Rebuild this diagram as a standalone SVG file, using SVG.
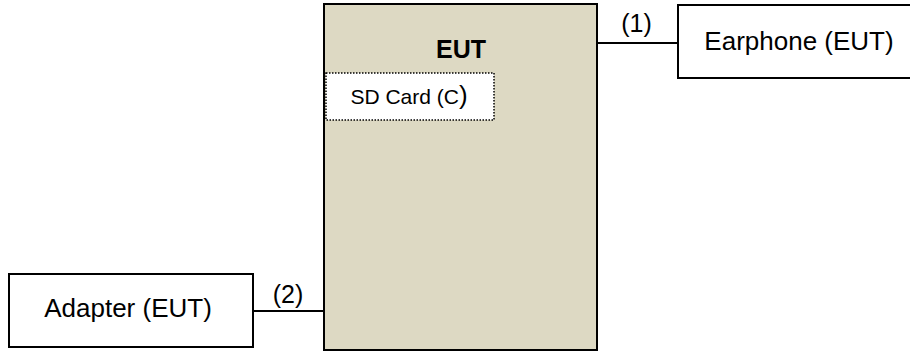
<svg xmlns="http://www.w3.org/2000/svg" width="910" height="351" viewBox="0 0 910 351">
<style>
.box{fill:#fff;stroke:#000;stroke-width:2}
.lbl{font-family:"Liberation Sans",Arial,sans-serif;fill:#000;text-anchor:middle}
.s25{font-size:25px}
.s26{font-size:26px}
.s21{font-size:21px}
.conn{stroke:#000;stroke-width:2;fill:none}
</style>
<rect width="910" height="351" fill="#fff"/>
<g id="eut">
<rect x="324" y="4" width="273" height="346" fill="#DDD9C3" stroke="#000" stroke-width="2"/>
<text class="lbl s25" x="461" y="58" font-weight="bold">EUT</text>
</g>
<g id="sdcard">
<rect x="326" y="73" width="168" height="47" fill="#fff" stroke="#000" stroke-width="1.5" stroke-dasharray="1.5,1.5"/>
<text class="lbl s21" x="409" y="104">SD Card (C<tspan style="font-size:26px">)</tspan></text>
</g>
<g id="earphone">
<rect class="box" x="678" y="5" width="240" height="73"/>
<text class="lbl s26" x="799" y="50">Earphone (EUT)</text>
</g>
<g id="adapter">
<rect class="box" x="9" y="274" width="244" height="73"/>
<text class="lbl s26" x="128" y="317">Adapter (EUT)</text>
</g>
<g id="connectors">
<line class="conn" x1="597" y1="43" x2="678" y2="43"/>
<text class="lbl s25" x="636.5" y="32">(1)</text>
<line class="conn" x1="253" y1="311" x2="324" y2="311"/>
<text class="lbl s25" x="288" y="303">(2)</text>
</g>
</svg>
